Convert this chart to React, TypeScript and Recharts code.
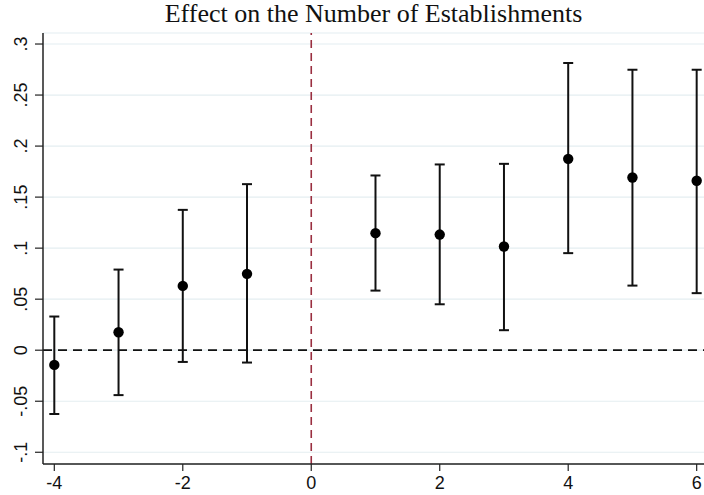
import React from 'react';
import { ComposedChart, Scatter, ErrorBar, XAxis, YAxis, CartesianGrid, ReferenceLine } from 'recharts';

const periods = [-4, -3, -2, -1, 1, 2, 3, 4, 5, 6];
const estimates = [-0.0144, 0.0176, 0.063, 0.0748, 0.1147, 0.1133, 0.1016, 0.1875, 0.1692, 0.166];
const lowerCI = [-0.0625, -0.044, -0.0115, -0.0121, 0.0584, 0.045, 0.0196, 0.0951, 0.0633, 0.0559];
const upperCI = [0.033, 0.079, 0.1375, 0.1627, 0.1712, 0.182, 0.1826, 0.2814, 0.2748, 0.2748];
const xTicks = [-4, -2, 0, 2, 4, 6];
const yTicks = [-0.1, -0.05, 0, 0.05, 0.1, 0.15, 0.2, 0.25, 0.3];

const data = periods.map((p, i) => ({
  x: p,
  y: estimates[i],
  err: [estimates[i] - lowerCI[i], upperCI[i] - estimates[i]],
}));

// stata style labels: .05, -.1, 0
const fmt = (v: number) => {
  if (Math.abs(v) < 1e-9) return '0';
  const s = String(Math.round(v * 100) / 100);
  return s.replace(/^(-?)0\./, '$1.');
};

const YTick = (props: any) => {
  const { x, y, payload } = props;
  const cx = x - 12;
  return (
    <text
      x={cx}
      y={y}
      transform={`rotate(-90 ${cx} ${y})`}
      textAnchor="middle"
      dominantBaseline="central"
      fontSize={18}
      fontFamily="'Liberation Sans', Arial, sans-serif"
      fill="#111"
    >
      {fmt(payload.value)}
    </text>
  );
};

const Dot = (props: any) => <circle cx={props.cx} cy={props.cy} r={5.2} fill="#000" />;

export default function App() {
  return (
    <div style={{ position: 'absolute', left: 0, top: 0, width: 704, height: 495, background: '#fff' }}>
      <div
        style={{
          position: 'absolute',
          left: 43,
          top: 1,
          width: 661,
          textAlign: 'center',
          fontFamily: "'Liberation Serif', 'Times New Roman', serif",
          fontSize: 26,
          lineHeight: '26px',
          color: '#111',
        }}
      >
        Effect on the Number of Establishments
      </div>
      <ComposedChart width={704} height={495} data={data} margin={{ top: 33, right: 0, bottom: 0, left: 0 }}>
        <CartesianGrid horizontal vertical={false} stroke="#E4EEF1" strokeWidth={1.2} />
        <XAxis
          type="number"
          dataKey="x"
          domain={[-4.176, 6.114]}
          ticks={xTicks}
          allowDataOverflow
          height={31}
          tickSize={7}
          tickMargin={5}
          tickLine={{ stroke: '#222', strokeWidth: 1.2 }}
          axisLine={{ stroke: '#222', strokeWidth: 1.5 }}
          tick={{ fontSize: 18, fill: '#111', fontFamily: "'Liberation Sans', Arial, sans-serif" }}
        />
        <YAxis
          type="number"
          dataKey="y"
          domain={[-0.1115, 0.3108]}
          ticks={yTicks}
          allowDataOverflow
          width={43}
          tickSize={8}
          tickLine={{ stroke: '#222', strokeWidth: 1.2 }}
          axisLine={{ stroke: '#222', strokeWidth: 1.5 }}
          tick={<YTick />}
        />
        <ReferenceLine y={0} stroke="#111" strokeWidth={1.8} strokeDasharray="9 6" />
        <ReferenceLine x={0} stroke="#9A2F40" strokeWidth={1.6} strokeDasharray="8 5" />
        <Scatter data={data} dataKey="y" shape={<Dot />} isAnimationActive={false}>
          <ErrorBar dataKey="err" direction="y" width={5} stroke="#111" strokeWidth={2} isAnimationActive={false} />
        </Scatter>
      </ComposedChart>
    </div>
  );
}
